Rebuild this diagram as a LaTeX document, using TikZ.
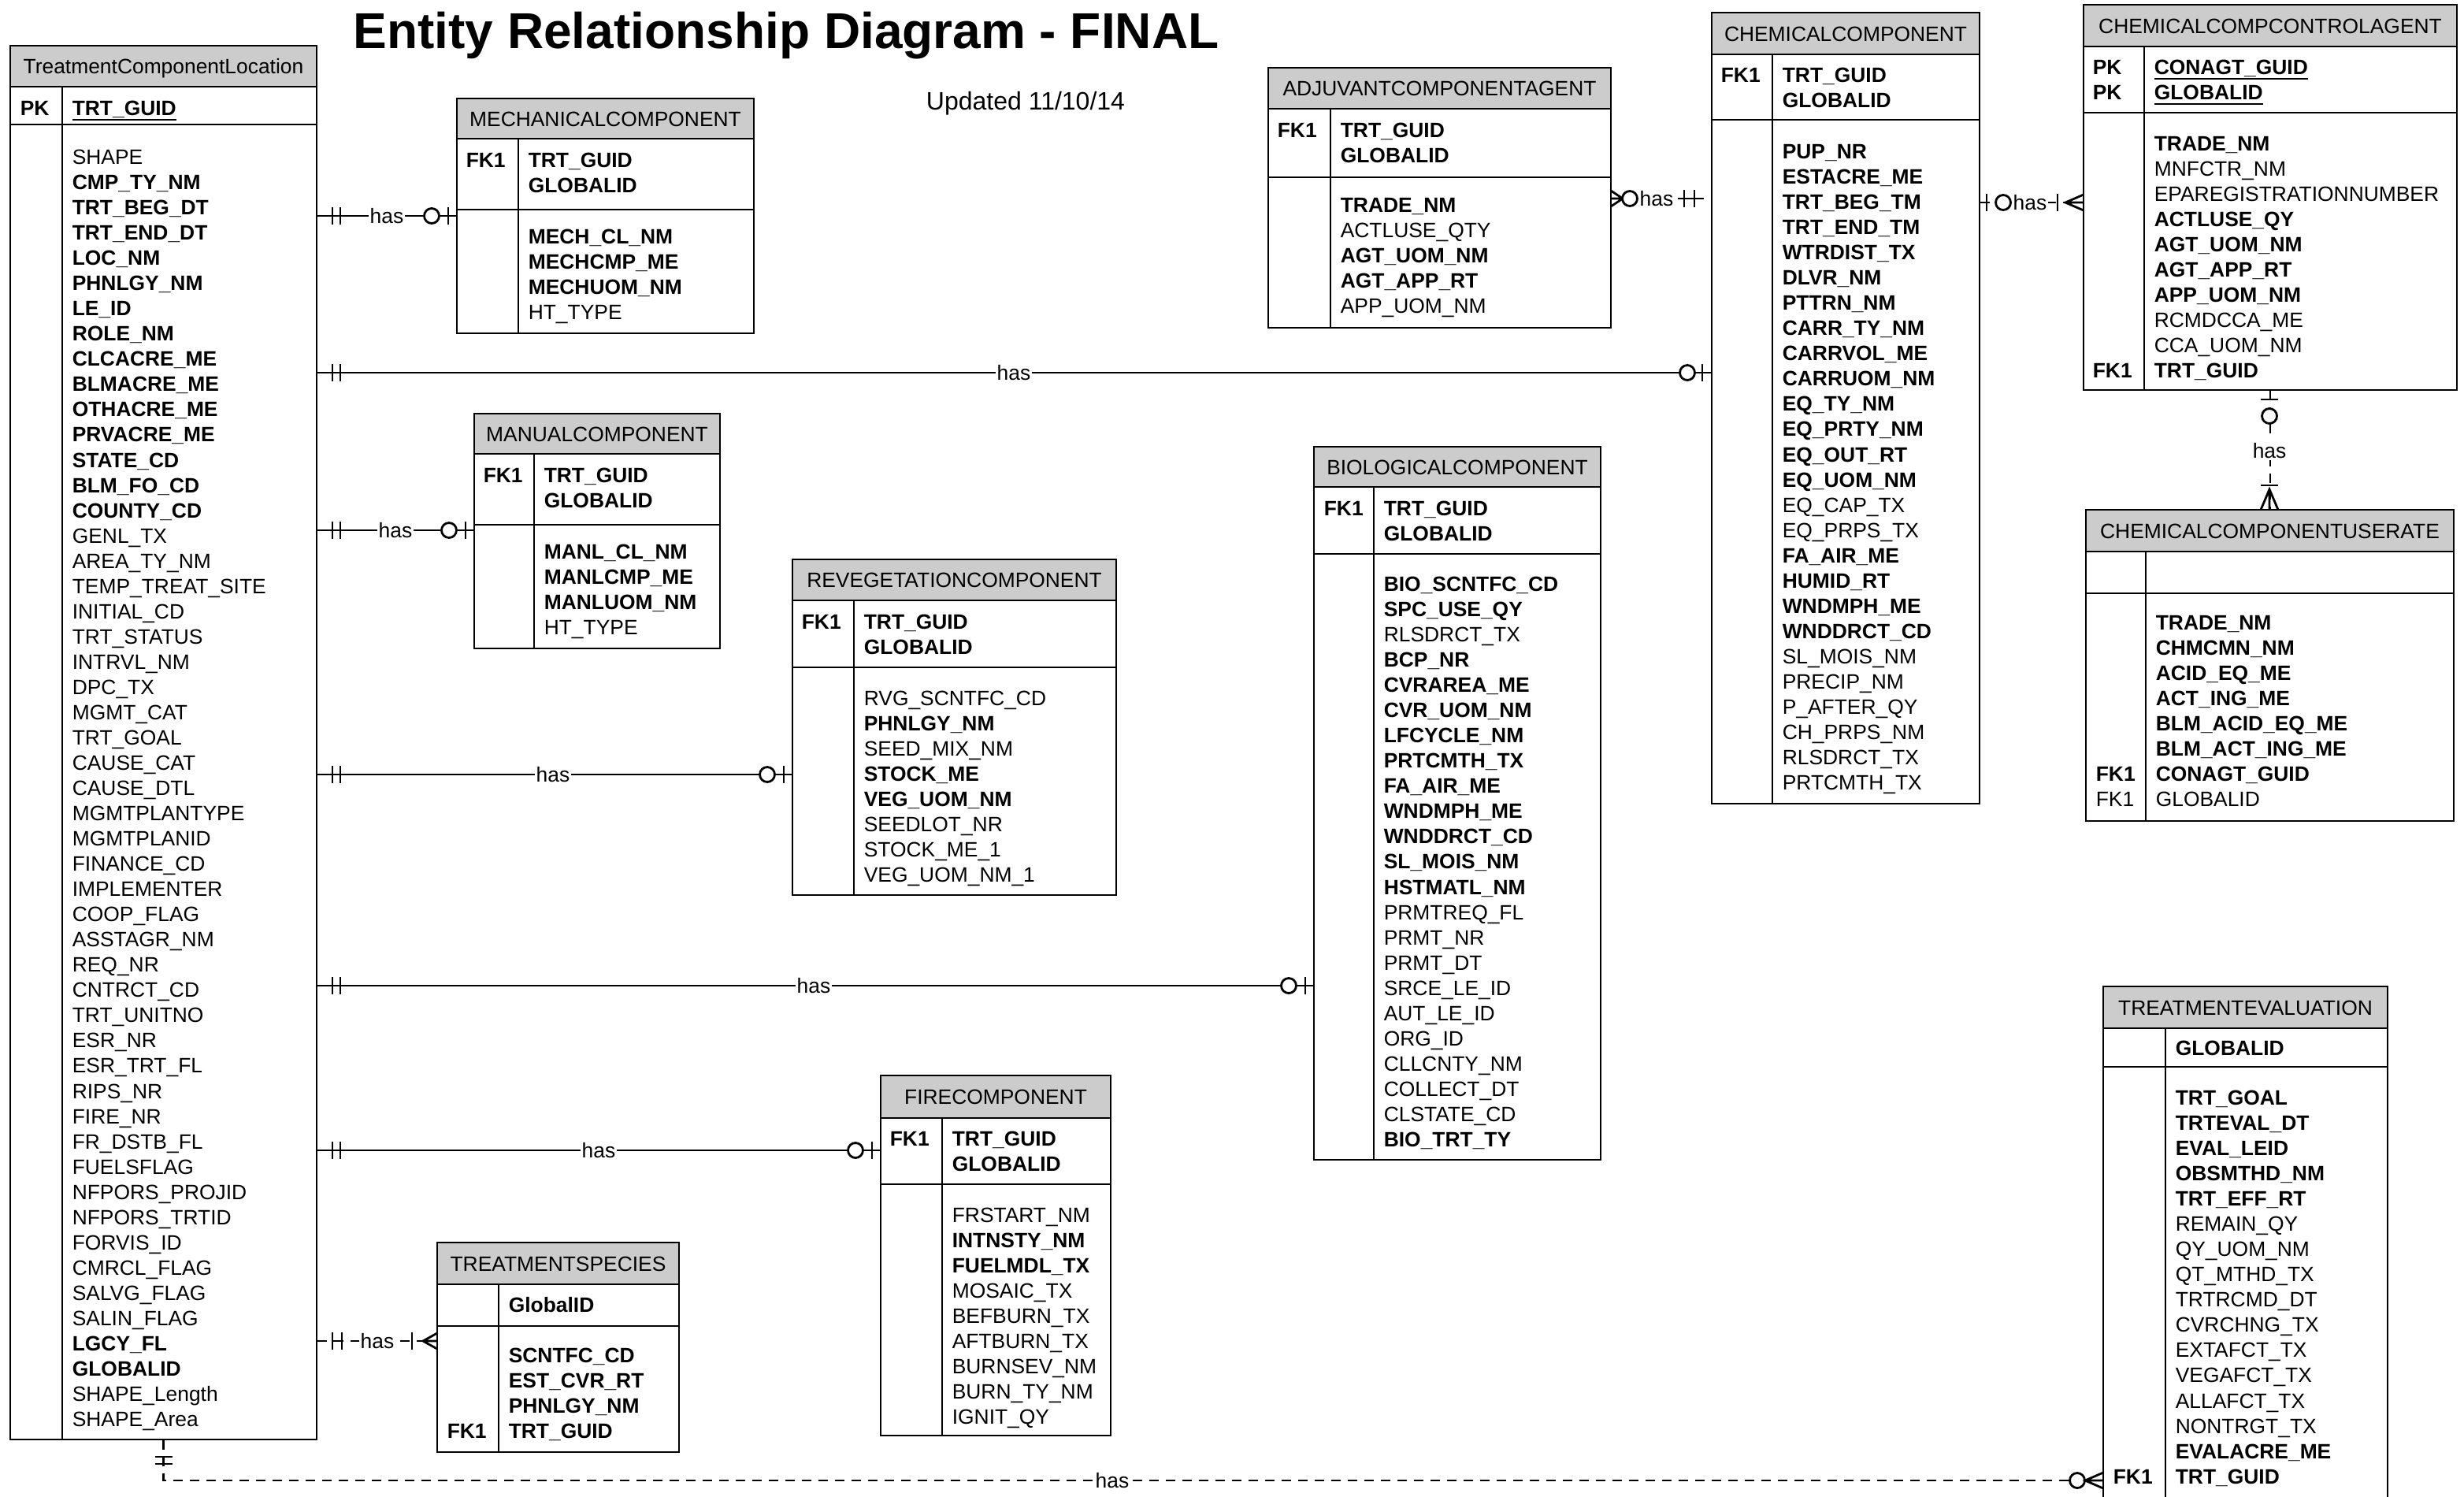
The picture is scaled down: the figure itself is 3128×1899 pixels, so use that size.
\documentclass[tikz,border=0pt]{standalone}
\usepackage{fontspec}
\setmainfont{Liberation Sans}
\usetikzlibrary{fit,calc}
\definecolor{hdrfill}{RGB}{204,204,204}
\newcommand{\fsz}{\fontsize{6.6}{8}\selectfont}
\newcommand{\fb}[1]{\textbf{#1}}
\newcommand{\uln}[1]{\underline{\smash{#1}}}
\tikzset{
  tbl/.style={draw, line width=0.6pt, inner sep=0pt},
  tblline/.style={line width=0.6pt},
  fld/.style={anchor=base west, inner sep=0pt, font=\fsz},
  hdrtxt/.style={anchor=base, inner sep=0pt, font=\fsz},
  conn/.style={line width=0.7pt},
  dconn/.style={line width=0.7pt, dash pattern=on 3pt off 2.25pt},
  sym/.style={line width=0.7pt},
  lbl/.style={anchor=base, fill=white, inner xsep=0.4pt, inner ysep=0.6pt, font=\fsz},
}
% table frame: name, x0, y0, x1, y header bottom, y key bottom, y bottom, x divider, title
\newcommand{\ertable}[9]{%
  \fill[hdrfill] (#2,#3) rectangle (#4,#5);
  \node[tbl, fit={(#2,#3) (#4,#7)}] (#1) {};
  \draw[tblline] (#2,#5) -- (#4,#5) (#2,#6) -- (#4,#6) (#8,#5) -- (#8,#7);
  \node[hdrtxt] (#1-title) at ({(#2+#4)/2},{(#3+#5)/2+9.5}) {#9};
}
% field list: prefix, x, first centre y, step, list
\newcommand{\erfields}[5]{%
  \foreach \ftxt [count=\fidx from 0] in {#5} {\node[fld] (#1-\fidx) at (#2,{#3+\fidx*#4+9.5}) {\ftxt};}
}
\newcommand{\tickv}[2]{\draw[sym] (#1,{#2-11}) -- (#1,{#2+11});}
\newcommand{\tickh}[2]{\draw[sym] ({#1-11},#2) -- ({#1+11},#2);}
\newcommand{\ring}[2]{\draw[sym,fill=white] (#1,#2) circle[radius=9.5];}
\newcommand{\crowh}[3]{\draw[sym] (#2,{#3-10}) -- (#1,#3) -- (#2,{#3+10}) (#1,#3) -- (#2,#3);}
\newcommand{\crowv}[3]{\draw[sym] ({#3-11},#2) -- (#3,#1) -- ({#3+11},#2) (#3,#1) -- (#3,#2);}

\begin{document}
\begin{tikzpicture}[x=0.25pt,y=-0.25pt]
\useasboundingbox (0,0) rectangle (3128,1899);
\fill[white] (0,0) rectangle (3128,1899);

\node[anchor=base, inner sep=0pt, font=\fontsize{16}{18}\selectfont\bfseries] (title) at (998,61) {Entity Relationship Diagram - FINAL};
\node[anchor=base, inner sep=0pt, font=\fontsize{8}{10}\selectfont] (upd) at (1302,139) {Updated 11/10/14};

% ---------- TreatmentComponentLocation
\ertable{tcl}{13}{58}{402}{110}{158}{1827}{79}{TreatmentComponentLocation}
\node[fld] (tcl-pk) at (25,146.5) {\fb{PK}};
\node[fld] (tcl-key) at (91,146.5) {\uln{\fb{TRT\_GUID}}};
\erfields{tcl}{91}{199}{32.04}{SHAPE,\fb{CMP\_TY\_NM},\fb{TRT\_BEG\_DT},\fb{TRT\_END\_DT},\fb{LOC\_NM},\fb{PHNLGY\_NM},\fb{LE\_ID},\fb{ROLE\_NM},\fb{CLCACRE\_ME},\fb{BLMACRE\_ME},\fb{OTHACRE\_ME},\fb{PRVACRE\_ME},\fb{STATE\_CD},\fb{BLM\_FO\_CD},\fb{COUNTY\_CD},GENL\_TX,AREA\_TY\_NM,TEMP\_TREAT\_SITE,INITIAL\_CD,TRT\_STATUS,INTRVL\_NM,DPC\_TX,MGMT\_CAT,TRT\_GOAL,CAUSE\_CAT,CAUSE\_DTL,MGMTPLANTYPE,MGMTPLANID,FINANCE\_CD,IMPLEMENTER,COOP\_FLAG,ASSTAGR\_NM,REQ\_NR,CNTRCT\_CD,TRT\_UNITNO,ESR\_NR,ESR\_TRT\_FL,RIPS\_NR,FIRE\_NR,FR\_DSTB\_FL,FUELSFLAG,NFPORS\_PROJID,NFPORS\_TRTID,FORVIS\_ID,CMRCL\_FLAG,SALVG\_FLAG,SALIN\_FLAG,\fb{LGCY\_FL},\fb{GLOBALID},SHAPE\_Length,SHAPE\_Area}

% ---------- MECHANICALCOMPONENT
\ertable{mech}{580}{125}{957}{176}{266}{423}{658}{MECHANICALCOMPONENT}
\node[fld] (mech-fk) at (591,212.5) {\fb{FK1}};
\erfields{mechk}{670}{203}{32}{\fb{TRT\_GUID},\fb{GLOBALID}}
\erfields{mech}{670}{300}{32}{\fb{MECH\_CL\_NM},\fb{MECHCMP\_ME},\fb{MECHUOM\_NM},HT\_TYPE}

% ---------- MANUALCOMPONENT
\ertable{man}{602}{525}{914}{576}{666}{823}{678}{MANUALCOMPONENT}
\node[fld] (man-fk) at (613,612.5) {\fb{FK1}};
\erfields{mank}{690}{603}{32}{\fb{TRT\_GUID},\fb{GLOBALID}}
\erfields{man}{690}{700}{32}{\fb{MANL\_CL\_NM},\fb{MANLCMP\_ME},\fb{MANLUOM\_NM},HT\_TYPE}

% ---------- REVEGETATIONCOMPONENT
\ertable{rev}{1006}{710}{1417}{762}{847}{1136}{1084}{REVEGETATIONCOMPONENT}
\node[fld] (rev-fk) at (1017,798.5) {\fb{FK1}};
\erfields{revk}{1096}{789}{32}{\fb{TRT\_GUID},\fb{GLOBALID}}
\erfields{rev}{1096}{886}{32}{RVG\_SCNTFC\_CD,\fb{PHNLGY\_NM},SEED\_MIX\_NM,\fb{STOCK\_ME},\fb{VEG\_UOM\_NM},SEEDLOT\_NR,STOCK\_ME\_1,VEG\_UOM\_NM\_1}

% ---------- BIOLOGICALCOMPONENT
\ertable{bio}{1668}{567}{2032}{618}{703}{1472}{1744}{BIOLOGICALCOMPONENT}
\node[fld] (bio-fk) at (1680,654.5) {\fb{FK1}};
\erfields{biok}{1756}{645}{32}{\fb{TRT\_GUID},\fb{GLOBALID}}
\erfields{bio}{1756}{741}{32.04}{\fb{BIO\_SCNTFC\_CD},\fb{SPC\_USE\_QY},RLSDRCT\_TX,\fb{BCP\_NR},\fb{CVRAREA\_ME},\fb{CVR\_UOM\_NM},\fb{LFCYCLE\_NM},\fb{PRTCMTH\_TX},\fb{FA\_AIR\_ME},\fb{WNDMPH\_ME},\fb{WNDDRCT\_CD},\fb{SL\_MOIS\_NM},\fb{HSTMATL\_NM},PRMTREQ\_FL,PRMT\_NR,PRMT\_DT,SRCE\_LE\_ID,AUT\_LE\_ID,ORG\_ID,CLLCNTY\_NM,COLLECT\_DT,CLSTATE\_CD,\fb{BIO\_TRT\_TY}}

% ---------- FIRECOMPONENT
\ertable{fire}{1118}{1365}{1410}{1419}{1503}{1822}{1196}{FIRECOMPONENT}
\node[fld] (fire-fk) at (1129,1454.5) {\fb{FK1}};
\erfields{firek}{1208}{1445}{32}{\fb{TRT\_GUID},\fb{GLOBALID}}
\erfields{fire}{1208}{1542}{32}{FRSTART\_NM,\fb{INTNSTY\_NM},\fb{FUELMDL\_TX},MOSAIC\_TX,BEFBURN\_TX,AFTBURN\_TX,BURNSEV\_NM,BURN\_TY\_NM,IGNIT\_QY}

% ---------- TREATMENTSPECIES
\ertable{ts}{555}{1577}{862}{1630}{1683}{1843}{633}{TREATMENTSPECIES}
\node[fld] (ts-key) at (645,1665.5) {\fb{GlobalID}};
\erfields{ts}{645}{1720}{32}{\fb{SCNTFC\_CD},\fb{EST\_CVR\_RT},\fb{PHNLGY\_NM},\fb{TRT\_GUID}}
\node[fld] (ts-fk) at (567,1825.5) {\fb{FK1}};

% ---------- ADJUVANTCOMPONENTAGENT
\ertable{adj}{1610}{86}{2045}{138}{225}{416}{1689}{ADJUVANTCOMPONENTAGENT}
\node[fld] (adj-fk) at (1621,174.5) {\fb{FK1}};
\erfields{adjk}{1701}{165}{32}{\fb{TRT\_GUID},\fb{GLOBALID}}
\erfields{adj}{1701}{260}{32}{\fb{TRADE\_NM},ACTLUSE\_QTY,\fb{AGT\_UOM\_NM},\fb{AGT\_APP\_RT},APP\_UOM\_NM}

% ---------- CHEMICALCOMPONENT
\ertable{chem}{2173}{16}{2513}{69}{152}{1020}{2250}{CHEMICALCOMPONENT}
\node[fld] (chem-fk) at (2184,104.5) {\fb{FK1}};
\erfields{chemk}{2262}{95}{32}{\fb{TRT\_GUID},\fb{GLOBALID}}
\erfields{chem}{2262}{192}{32.04}{\fb{PUP\_NR},\fb{ESTACRE\_ME},\fb{TRT\_BEG\_TM},\fb{TRT\_END\_TM},\fb{WTRDIST\_TX},\fb{DLVR\_NM},\fb{PTTRN\_NM},\fb{CARR\_TY\_NM},\fb{CARRVOL\_ME},\fb{CARRUOM\_NM},\fb{EQ\_TY\_NM},\fb{EQ\_PRTY\_NM},\fb{EQ\_OUT\_RT},\fb{EQ\_UOM\_NM},EQ\_CAP\_TX,EQ\_PRPS\_TX,\fb{FA\_AIR\_ME},\fb{HUMID\_RT},\fb{WNDMPH\_ME},\fb{WNDDRCT\_CD},SL\_MOIS\_NM,PRECIP\_NM,P\_AFTER\_QY,CH\_PRPS\_NM,RLSDRCT\_TX,PRTCMTH\_TX}

% ---------- CHEMICALCOMPCONTROLAGENT
\ertable{ccca}{2645}{6}{3119}{59}{143}{495}{2722}{CHEMICALCOMPCONTROLAGENT}
\node[fld] (ccca-pk1) at (2656,94.5) {\fb{PK}};
\node[fld] (ccca-pk2) at (2656,126.5) {\fb{PK}};
\erfields{cccak}{2734}{85}{32}{\uln{\fb{CONAGT\_GUID}},\uln{\fb{GLOBALID}}}
\erfields{ccca}{2734}{182}{32}{\fb{TRADE\_NM},MNFCTR\_NM,EPAREGISTRATIONNUMBER,\fb{ACTLUSE\_QY},\fb{AGT\_UOM\_NM},\fb{AGT\_APP\_RT},\fb{APP\_UOM\_NM},RCMDCCA\_ME,CCA\_UOM\_NM,\fb{TRT\_GUID}}
\node[fld] (ccca-fk) at (2656,479.5) {\fb{FK1}};

% ---------- CHEMICALCOMPONENTUSERATE
\ertable{ccur}{2648}{647}{3115}{700}{753}{1042}{2724}{CHEMICALCOMPONENTUSERATE}
\erfields{ccur}{2736}{790}{32}{\fb{TRADE\_NM},\fb{CHMCMN\_NM},\fb{ACID\_EQ\_ME},\fb{ACT\_ING\_ME},\fb{BLM\_ACID\_EQ\_ME},\fb{BLM\_ACT\_ING\_ME},\fb{CONAGT\_GUID},GLOBALID}
\node[fld] (ccur-fk1) at (2660,991.5) {\fb{FK1}};
\node[fld] (ccur-fk2) at (2660,1023.5) {FK1};

% ---------- TREATMENTEVALUATION
\ertable{tev}{2670}{1252}{3031}{1305}{1354}{1960}{2749}{TREATMENTEVALUATION}
\node[fld] (tev-key) at (2761,1339.5) {\fb{GLOBALID}};
\erfields{tev}{2761}{1393}{32.04}{\fb{TRT\_GOAL},\fb{TRTEVAL\_DT},\fb{EVAL\_LEID},\fb{OBSMTHD\_NM},\fb{TRT\_EFF\_RT},REMAIN\_QY,QY\_UOM\_NM,QT\_MTHD\_TX,TRTRCMD\_DT,CVRCHNG\_TX,EXTAFCT\_TX,VEGAFCT\_TX,ALLAFCT\_TX,NONTRGT\_TX,\fb{EVALACRE\_ME},\fb{TRT\_GUID}}
\node[fld] (tev-fk) at (2682,1883) {\fb{FK1}};

% ---------- connector rows
\coordinate (r1) at (0,274);
\coordinate (r2) at (0,473);
\coordinate (r3) at (0,673);
\coordinate (r4) at (0,983);
\coordinate (r5) at (0,1251);
\coordinate (r6) at (0,1460);
\coordinate (r7) at (0,1702);
\coordinate (r8) at (0,252);
\coordinate (r9) at (0,257);
\coordinate (r11) at (0,1879);

% TCL -> MECH
\draw[conn] (tcl.east |- r1) -- (mech.west |- r1);
\tickv{422}{274}\tickv{432}{274}\ring{548}{274}\tickv{569}{274}
\node[lbl] (h1) at (491,283) {has};
% TCL -> CHEM
\draw[conn] (tcl.east |- r2) -- (chem.west |- r2);
\tickv{422}{473}\tickv{432}{473}\ring{2142}{473}\tickv{2161}{473}
\node[lbl] (h2) at (1287,482) {has};
% TCL -> MANUAL
\draw[conn] (tcl.east |- r3) -- (man.west |- r3);
\tickv{422}{673}\tickv{432}{673}\ring{570}{673}\tickv{591}{673}
\node[lbl] (h3) at (502,682) {has};
% TCL -> REVEG
\draw[conn] (tcl.east |- r4) -- (rev.west |- r4);
\tickv{422}{983}\tickv{432}{983}\ring{974}{983}\tickv{995}{983}
\node[lbl] (h4) at (702,992) {has};
% TCL -> BIO
\draw[conn] (tcl.east |- r5) -- (bio.west |- r5);
\tickv{422}{1251}\tickv{432}{1251}\ring{1636}{1251}\tickv{1657}{1251}
\node[lbl] (h5) at (1033,1260) {has};
% TCL -> FIRE
\draw[conn] (tcl.east |- r6) -- (fire.west |- r6);
\tickv{422}{1460}\tickv{432}{1460}\ring{1086}{1460}\tickv{1107}{1460}
\node[lbl] (h6) at (760,1469) {has};
% TCL -> TREATMENTSPECIES (dashed)
\draw[dconn] (tcl.east |- r7) -- (ts.west |- r7);
\draw[sym] (422,1702) -- (434,1702);
\tickv{422}{1702}\tickv{434}{1702}\tickv{523}{1702}
\crowh{537}{555}{1702}
\node[lbl] (h7) at (479,1711) {has};
% ADJ -> CHEM (dashed)
\draw[dconn] (adj.east |- r8) -- (chem.west |- r8);
\draw[sym] (2138,252) -- (2151,252);
\crowh{2060}{2045}{252}\ring{2069}{252}\tickv{2138}{252}\tickv{2151}{252}
\node[lbl] (h8) at (2103,261) {has};
% CHEM -> CCCA (dashed)
\draw[dconn] (chem.east |- r9) -- (ccca.west |- r9);
\tickv{2522}{257}\ring{2543}{257}\tickv{2612}{257}
\crowh{2622}{2645}{257}
\node[lbl] (h9) at (2577,266) {has};
% CCCA -> CCUR (dashed, vertical)
\draw[dconn] (ccca.south) -- (ccca.south |- ccur.north);
\tickh{2881}{507}\ring{2881}{528}\tickh{2881}{616}
\crowv{621}{647}{2881}
\node[lbl] (h10) at (2881,581) {has};
% TCL -> TREATMENTEVALUATION (dashed)
\draw[dconn] (tcl.south) -- (tcl.south |- r11) -- (tev.west |- r11);
\tickh{207.5}{1849}\tickh{207.5}{1858}
\ring{2637}{1879}
\crowh{2647}{2670}{1879}
\node[lbl] (h11) at (1412,1888) {has};
\end{tikzpicture}
\end{document}
